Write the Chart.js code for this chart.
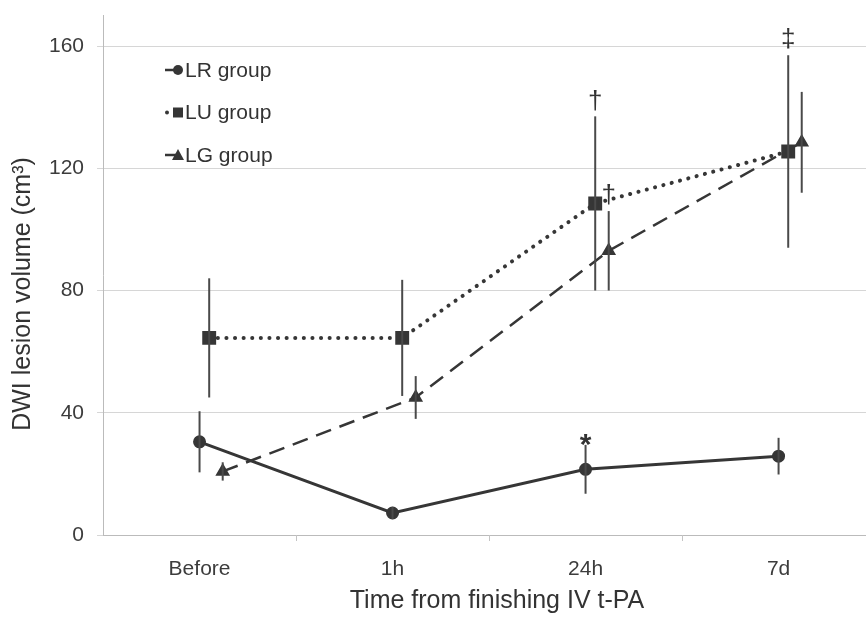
<!DOCTYPE html>
<html>
<head>
<meta charset="utf-8">
<script src="https://cdn.jsdelivr.net/npm/chart.js@4.4.1/dist/chart.umd.min.js"></script>
<style>
  body { margin: 0; background: #fff; }
  #wrap { width: 866px; height: 620px; }
</style>
</head>
<body>
<div id="wrap"><canvas id="chart" width="866" height="620"></canvas></div>
<script>
const categories = ['Before', '1h', '24h', '7d'];
const yTicks = [0, 40, 80, 120, 160];

const lrValues = [30.5, 7.2, 21.5, 25.8];
const lrErrors = [10, 2, 8, 6];
const luValues = [64.5, 64.5, 108.5, 125.5];
const luErrors = [19.5, 19, 28.5, 31.5];
const lgValues = [20.8, 45, 93, 128.5];
const lgErrors = [3, 7, 13, 16.5];

// small sideways shift per group, in category units
const lrShift = 0;
const luShift = 0.05;
const lgShift = 0.12;

// significance marks: [series, category index, symbol]
const marks = [
    ['LR', 2, '*'],
    ['LU', 2, '\u2020'],
    ['LG', 2, '\u2020'],
    ['LU', 3, '\u2021']
];

const ink = '#363636';

function toPoints(values, shift) {
    return values.map((v, i) => ({ x: i + shift, y: v }));
}

const errorBars = {
    id: 'errorBars',
    beforeDatasetsDraw(chart) {
        // little category separators under the x axis
        const ctx = chart.ctx;
        const xs = chart.scales.x;
        const bottom = chart.chartArea.bottom;
        ctx.save();
        ctx.strokeStyle = '#c4c4c4';
        ctx.lineWidth = 1;
        for (let i = 0; i < categories.length - 1; i++) {
            const px = Math.round(xs.getPixelForValue(i + 0.5)) + 0.5;
            ctx.beginPath();
            ctx.moveTo(px, bottom);
            ctx.lineTo(px, bottom + 6);
            ctx.stroke();
        }
        ctx.restore();
    },
    afterDatasetsDraw(chart) {
        const ctx = chart.ctx;
        const xs = chart.scales.x, ys = chart.scales.y;
        ctx.save();
        ctx.strokeStyle = '#4a4a4a';
        ctx.lineWidth = 2;
        chart.data.datasets.forEach(ds => {
            ds.data.forEach((p, i) => {
                const e = ds.errors[i];
                const px = xs.getPixelForValue(p.x);
                ctx.beginPath();
                ctx.moveTo(px, ys.getPixelForValue(p.y + e));
                ctx.lineTo(px, ys.getPixelForValue(p.y - e));
                ctx.stroke();
            });
        });
        // significance symbols above the upper whiskers
        ctx.fillStyle = '#333';
        ctx.textAlign = 'center';
        ctx.textBaseline = 'bottom';
        marks.forEach(([name, i, sym]) => {
            const ds = chart.data.datasets.find(d => d.label === name + ' group');
            const p = ds.data[i];
            const px = xs.getPixelForValue(p.x);
            const py = ys.getPixelForValue(p.y + ds.errors[i]);
            ctx.font = sym === '*' ? 'bold 30px "Liberation Sans"' : '26px "Liberation Sans"';
            ctx.fillText(sym, px, sym === '*' ? py + 16 : py - 2);
        });
        ctx.restore();
    }
};

const innerLegend = {
    id: 'innerLegend',
    afterDraw(chart) {
        const ctx = chart.ctx;
        ctx.save();
        ctx.font = '21px "Liberation Sans"';
        ctx.textBaseline = 'middle';
        chart.data.datasets.forEach((ds, k) => {
            const y = 70 + k * 42.5;
            ctx.strokeStyle = ink;
            ctx.fillStyle = ink;
            if (ds.pointStyle === 'rect') {
                ctx.beginPath();
                ctx.arc(167, y, 2, 0, Math.PI * 2);
                ctx.fill();
            } else {
                ctx.lineWidth = 2.5;
                ctx.beginPath();
                ctx.moveTo(165, y);
                ctx.lineTo(176, y);
                ctx.stroke();
            }
            const mx = 178;
            ctx.beginPath();
            if (ds.pointStyle === 'circle') {
                ctx.arc(mx, y, 5, 0, Math.PI * 2);
            } else if (ds.pointStyle === 'rect') {
                ctx.rect(mx - 5, y - 5, 10, 10);
            } else {
                ctx.moveTo(mx, y - 6);
                ctx.lineTo(mx + 6, y + 5);
                ctx.lineTo(mx - 6, y + 5);
                ctx.closePath();
            }
            ctx.fill();
            ctx.fillStyle = '#333';
            ctx.fillText(ds.label, 185, y + 1);
        });
        ctx.restore();
    }
};

new Chart(document.getElementById('chart'), {
    type: 'line',
    data: {
        datasets: [
            {
                label: 'LR group',
                data: toPoints(lrValues, lrShift),
                errors: lrErrors,
                borderColor: ink,
                backgroundColor: ink,
                borderWidth: 3,
                pointStyle: 'circle',
                pointRadius: 5,
                order: 1
            },
            {
                label: 'LU group',
                data: toPoints(luValues, luShift),
                errors: luErrors,
                borderColor: ink,
                backgroundColor: ink,
                borderWidth: 4,
                borderDash: [0.1, 8.5],
                borderCapStyle: 'round',
                pointStyle: 'rect',
                pointRadius: 7,
                order: 2
            },
            {
                label: 'LG group',
                data: toPoints(lgValues, lgShift),
                errors: lgErrors,
                borderColor: ink,
                backgroundColor: ink,
                borderWidth: 2.5,
                borderDash: [16, 9],
                pointStyle: 'triangle',
                pointRadius: 6,
                order: 3
            }
        ]
    },
    options: {
        responsive: false,
        animation: false,
        layout: { autoPadding: false, padding: { top: 15.5, right: 0, left: 8, bottom: 4 } },
        plugins: {
            legend: { display: false },
            tooltip: { enabled: false }
        },
        scales: {
            x: {
                type: 'linear',
                min: -0.5,
                max: 3.453,
                afterBuildTicks: axis => {
                    axis.ticks = categories.map((c, i) => ({ value: i }));
                },
                ticks: {
                    callback: v => categories[v],
                    color: '#3c3c3c',
                    font: { family: 'Liberation Sans', size: 21 },
                    padding: 21.4
                },
                grid: { display: false, drawTicks: false },
                border: { color: '#bbb', width: 1 },
                title: {
                    display: true,
                    // leading spaces nudge the centred title a little right, as in the original
                    text: '\u2002\u2002Time from finishing IV t-PA',
                    color: '#333',
                    font: { family: 'Liberation Sans', size: 25 },
                    padding: { top: -17, bottom: 0 }
                }
            },
            y: {
                min: 0,
                max: 170,
                afterBuildTicks: axis => {
                    axis.ticks = yTicks.map(v => ({ value: v }));
                },
                ticks: {
                    color: '#3c3c3c',
                    font: { family: 'Liberation Sans', size: 21, lineHeight: 0.2 },
                    padding: 13
                },
                grid: { color: '#d6d6d6', tickLength: 6 },
                border: { color: '#bbb' },
                title: {
                    display: true,
                    text: 'DWI lesion volume (cm\u00b3)\u2002\u2002\u2002',
                    color: '#333',
                    font: { family: 'Liberation Sans', size: 25 },
                    padding: { top: 0, bottom: -2 }
                }
            }
        }
    },
    plugins: [errorBars, innerLegend]
});
</script>
</body>
</html>
